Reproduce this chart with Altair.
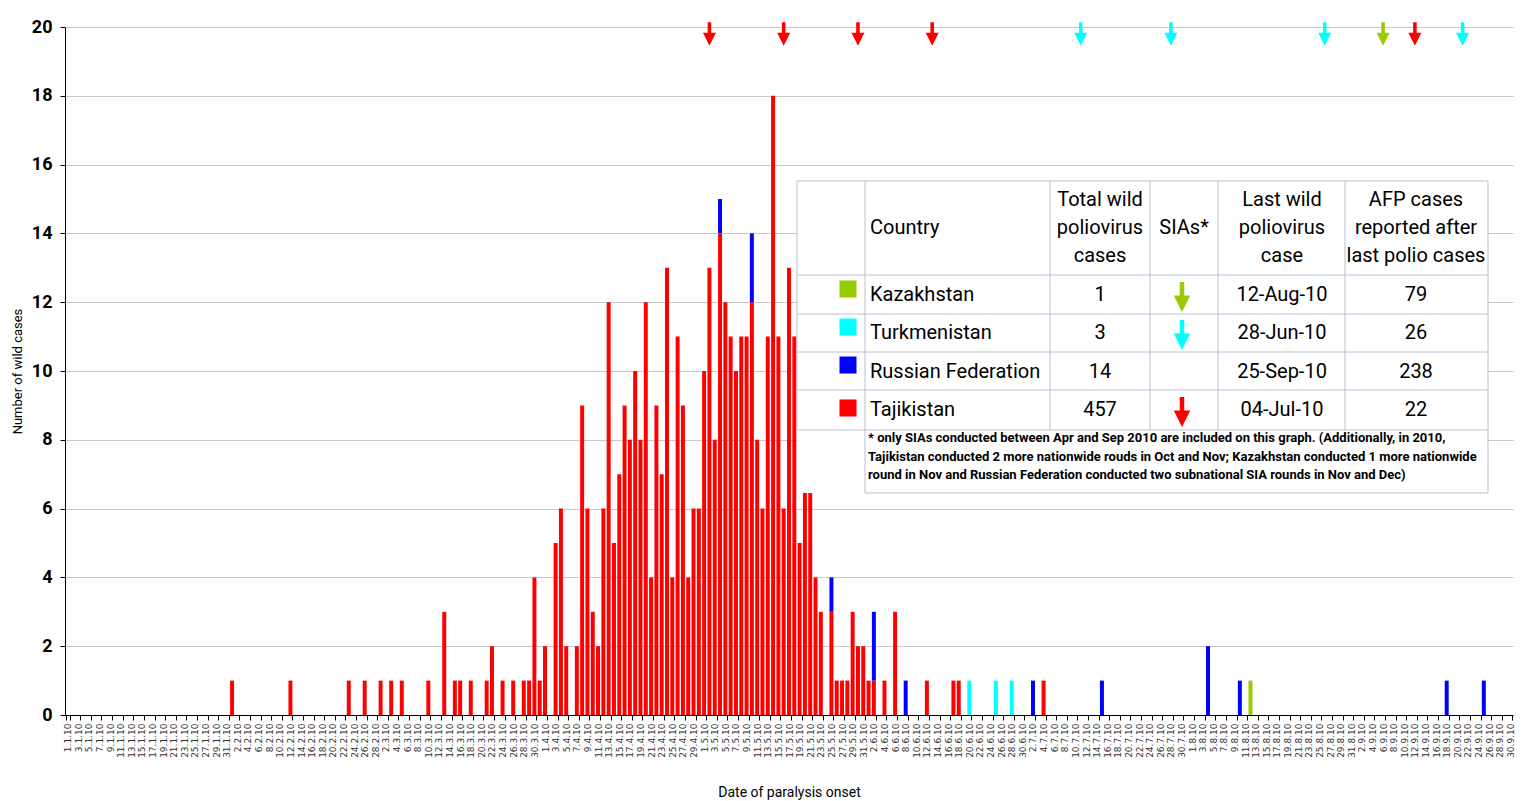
import altair as alt
import pandas as pd

# ---------------- data ----------------
day_labels = [f"{d.day}.{d.month}.10" for d in pd.date_range("2010-01-01", "2010-09-30")]

taj_dates = ["1.2.10", "12.2.10", "23.2.10", "26.2.10", "1.3.10", "3.3.10", "5.3.10", "10.3.10",
             "13.3.10", "15.3.10", "16.3.10", "18.3.10", "21.3.10", "22.3.10", "24.3.10", "26.3.10",
             "28.3.10", "29.3.10", "30.3.10", "31.3.10", "1.4.10",
             "3.4.10", "4.4.10", "5.4.10", "7.4.10", "8.4.10", "9.4.10", "10.4.10", "11.4.10",
             "12.4.10", "13.4.10", "14.4.10", "15.4.10", "16.4.10", "17.4.10", "18.4.10", "19.4.10",
             "20.4.10", "21.4.10", "22.4.10", "23.4.10", "24.4.10", "25.4.10", "26.4.10", "27.4.10",
             "28.4.10", "29.4.10", "30.4.10",
             "1.5.10", "2.5.10", "3.5.10", "4.5.10", "5.5.10", "6.5.10", "7.5.10", "8.5.10",
             "9.5.10", "10.5.10", "11.5.10", "12.5.10", "13.5.10", "14.5.10", "15.5.10", "16.5.10",
             "17.5.10", "18.5.10", "19.5.10", "20.5.10", "21.5.10", "22.5.10", "23.5.10", "25.5.10",
             "26.5.10", "27.5.10", "28.5.10", "29.5.10", "30.5.10", "31.5.10",
             "1.6.10", "2.6.10", "4.6.10", "6.6.10", "12.6.10", "17.6.10", "18.6.10", "4.7.10"]
taj_cases = [1, 1, 1, 1, 1, 1, 1, 1,
             3, 1, 1, 1, 1, 2, 1, 1,
             1, 1, 4, 1, 2,
             5, 6, 2, 2, 9, 6, 3, 2,
             6, 12, 5, 7, 9, 8, 10, 8,
             12, 4, 9, 7, 13, 4, 11, 9,
             4, 6, 6,
             10, 13, 8, 14, 12, 11, 10, 11,
             11, 12, 8, 6, 11, 18, 11, 6,
             13, 11, 5, 7, 7, 4, 3, 3,
             1, 1, 1, 3, 2, 2,
             1, 1, 1, 3, 1, 1, 1, 1]

rus_dates = ["4.5.10", "10.5.10", "25.5.10", "2.6.10", "8.6.10", "2.7.10", "15.7.10",
             "4.8.10", "10.8.10", "18.9.10", "25.9.10"]
rus_cases = [1, 2, 1, 2, 1, 1, 1, 2, 1, 1, 1]

tkm_dates = ["20.6.10", "25.6.10", "28.6.10"]
tkm_cases = [1, 1, 1]

kaz_dates = ["12.8.10"]
kaz_cases = [1]

countries = ["Tajikistan", "Russian Federation", "Turkmenistan", "Kazakhstan"]
country_colors = ["#FF0000", "#0000FF", "#00FFFF", "#99CC00"]

sia_dates = ["2.5.10", "16.5.10", "30.5.10", "13.6.10", "11.7.10", "28.7.10",
             "26.8.10", "6.9.10", "12.9.10", "21.9.10"]
sia_country = ["Tajikistan", "Tajikistan", "Tajikistan", "Tajikistan", "Turkmenistan",
               "Turkmenistan", "Turkmenistan", "Kazakhstan", "Tajikistan", "Turkmenistan"]

# table contents
tbl_countries = ["Kazakhstan", "Turkmenistan", "Russian Federation", "Tajikistan"]
tbl_total = ["1", "3", "14", "457"]
tbl_sia = [True, True, False, True]
tbl_last = ["12-Aug-10", "28-Jun-10", "25-Sep-10", "04-Jul-10"]
tbl_afp = ["79", "26", "238", "22"]
hdr_total = ["Total wild", "poliovirus", "cases"]
hdr_last = ["Last wild", "poliovirus", "case"]
hdr_afp = ["AFP cases", "reported after", "last polio cases"]
footnote = ["* only SIAs conducted between Apr and Sep 2010 are included on this graph. (Additionally, in 2010,",
            "Tajikistan conducted 2 more nationwide rouds in Oct and Nov; Kazakhstan conducted 1 more nationwide",
            "round in Nov  and Russian Federation conducted two subnational SIA rounds in Nov and Dec)"]

# ---------------- layout constants ----------------
W, H = 1448, 688
OX, OY = 65, 27          # plot origin on page
FONT = "Roboto, Liberation Sans, sans-serif"

rows = []
for ds, cs, c in [(taj_dates, taj_cases, countries[0]), (rus_dates, rus_cases, countries[1]),
                  (tkm_dates, tkm_cases, countries[2]), (kaz_dates, kaz_cases, countries[3])]:
    for d, v in zip(ds, cs):
        rows.append({"date": d, "cases": v, "country": c, "ord": countries.index(c)})
bars_df = pd.DataFrame(rows)

color_scale = alt.Scale(domain=countries, range=country_colors)
x_scale = alt.Scale(domain=day_labels, paddingInner=0.25, paddingOuter=0.125)

x_axis = alt.Axis(values=day_labels[::2], tickBand="extent", labelAngle=270, labelFontSize=9,
                  labelFont="DejaVu Sans", labelColor="#333333", labelOverlap=False, labelPadding=3,
                  domainColor="#000000", tickColor="#000000", tickSize=5, grid=False,
                  title="Date of paralysis onset", titleFontSize=14, titleFontWeight="normal",
                  titleFont=FONT, titleY=77, titleBaseline="middle", titleColor="#000000")
y_axis = alt.Axis(values=list(range(0, 21, 2)), labelFontSize=18, labelFontWeight="bold",
                  labelFont=FONT, labelColor="#000000", labelPadding=8, tickSize=5,
                  domainColor="#000000", tickColor="#000000", gridColor="#C8C8C8",
                  title="Number of wild cases", titleFontSize=13, titleFontWeight="normal",
                  titleFont=FONT, titleX=-41, titleY=H / 2, titleColor="#000000")

bars = alt.Chart(bars_df).mark_bar().encode(
    x=alt.X("date:N", scale=x_scale, axis=x_axis, sort=day_labels),
    y=alt.Y("cases:Q", stack="zero", scale=alt.Scale(domain=[0, 20], nice=False), axis=y_axis),
    color=alt.Color("country:N", scale=color_scale, legend=None),
    order=alt.Order("ord:Q"),
)

arrow_path = "M -0.15 -1 L 0.15 -1 L 0.15 -0.1 L 0.55 -0.1 L 0 1 L -0.55 -0.1 L -0.15 -0.1 Z"
sia_df = pd.DataFrame({"date": sia_dates, "country": sia_country})
arrows = alt.Chart(sia_df).mark_point(shape=arrow_path, filled=True, size=560, opacity=1).encode(
    x=alt.X("date:N", scale=x_scale, sort=day_labels, axis=None),
    y=alt.value(7),
    color=alt.Color("country:N", scale=color_scale, legend=None),
)

# ---------------- table (pixel positioned annotation) ----------------
TL, TR, TT = 797, 1488, 181
row_lines = [275, 314, 352, 390, 430]
FB, FL = 493, 865
col_lines = [865, 1050, 1150, 1218, 1345]
col_c = {"total": 1100, "sia": 1184, "last": 1282, "afp": 1416}
hdr_y = [200, 228, 256]
row_y = [295, 333, 372, 410]

def px(v):
    return v - OX

def py(v):
    return v - OY

bg = pd.DataFrame({"x": [px(TL)], "x2": [px(TR)], "y": [py(TT)], "y2": [py(FB)]})
bg_layer = alt.Chart(bg).mark_rect(color="white").encode(
    x=alt.X("x:Q", scale=None, axis=None), x2="x2:Q",
    y=alt.Y("y:Q", scale=None, axis=None), y2="y2:Q")

lines = []
for yy in [TT] + row_lines:
    lines.append({"x": px(TL), "x2": px(TR), "y": py(yy), "y2": py(yy)})
lines.append({"x": px(FL), "x2": px(TR), "y": py(FB), "y2": py(FB)})
lines.append({"x": px(TL), "x2": px(TL), "y": py(TT), "y2": py(row_lines[-1])})
lines.append({"x": px(FL), "x2": px(FL), "y": py(TT), "y2": py(FB)})
for xx in col_lines[1:]:
    lines.append({"x": px(xx), "x2": px(xx), "y": py(TT), "y2": py(row_lines[-1])})
lines.append({"x": px(TR), "x2": px(TR), "y": py(TT), "y2": py(FB)})
line_layer = alt.Chart(pd.DataFrame(lines)).mark_rule(color="#B8C0D0", strokeWidth=1).encode(
    x=alt.X("x:Q", scale=None, axis=None), x2="x2:Q",
    y=alt.Y("y:Q", scale=None, axis=None), y2="y2:Q")

left_txt = [{"x": px(870), "y": py(228), "t": "Country"}]
for name, yy in zip(tbl_countries, row_y):
    left_txt.append({"x": px(870), "y": py(yy), "t": name})
center_txt = [{"x": px(col_c["sia"]), "y": py(228), "t": "SIAs*"}]
for k, hdr in [("total", hdr_total), ("last", hdr_last), ("afp", hdr_afp)]:
    for t, yy in zip(hdr, hdr_y):
        center_txt.append({"x": px(col_c[k]), "y": py(yy), "t": t})
for i, yy in enumerate(row_y):
    center_txt.append({"x": px(col_c["total"]), "y": py(yy), "t": tbl_total[i]})
    center_txt.append({"x": px(col_c["last"]), "y": py(yy), "t": tbl_last[i]})
    center_txt.append({"x": px(col_c["afp"]), "y": py(yy), "t": tbl_afp[i]})

left_layer = alt.Chart(pd.DataFrame(left_txt)).mark_text(
    align="left", baseline="middle", font=FONT, fontSize=20, color="#000000").encode(
    x=alt.X("x:Q", scale=None, axis=None), y=alt.Y("y:Q", scale=None, axis=None), text="t:N")
center_layer = alt.Chart(pd.DataFrame(center_txt)).mark_text(
    align="center", baseline="middle", font=FONT, fontSize=20, color="#000000").encode(
    x=alt.X("x:Q", scale=None, axis=None), y=alt.Y("y:Q", scale=None, axis=None), text="t:N")

foot_df = pd.DataFrame({"x": [px(868)] * 3, "y": [py(v) for v in [438, 457, 475]], "t": footnote})
foot_layer = alt.Chart(foot_df).mark_text(
    align="left", baseline="middle", font=FONT, fontSize=13, fontWeight="bold", color="#000000").encode(
    x=alt.X("x:Q", scale=None, axis=None), y=alt.Y("y:Q", scale=None, axis=None), text="t:N")

sw_df = pd.DataFrame({"x": [px(848)] * 4, "y": [py(v) for v in [289, 327, 365, 408]],
                      "country": tbl_countries})
sw_layer = alt.Chart(sw_df).mark_point(shape="square", filled=True, size=290, opacity=1).encode(
    x=alt.X("x:Q", scale=None, axis=None), y=alt.Y("y:Q", scale=None, axis=None),
    color=alt.Color("country:N", scale=color_scale, legend=None))

ta_rows = [{"x": px(1182), "y": py(yy + 2), "country": c}
           for c, yy, s in zip(tbl_countries, row_y, tbl_sia) if s]
ta_layer = alt.Chart(pd.DataFrame(ta_rows)).mark_point(
    shape=arrow_path, filled=True, size=900, opacity=1).encode(
    x=alt.X("x:Q", scale=None, axis=None), y=alt.Y("y:Q", scale=None, axis=None),
    color=alt.Color("country:N", scale=color_scale, legend=None))

chart = alt.layer(bars, arrows, bg_layer, line_layer, left_layer, center_layer, foot_layer,
                  sw_layer, ta_layer).resolve_scale(x="independent", y="independent").properties(
    width=W, height=H,
    autosize=alt.AutoSizeParams(type="none"),
    padding={"left": OX - 8, "top": OY - 8, "right": 2, "bottom": 88},
).configure_view(stroke=None).configure_axis(domainWidth=1)

chart.save("out.html", embed_options={"renderer": "svg", "actions": False})
